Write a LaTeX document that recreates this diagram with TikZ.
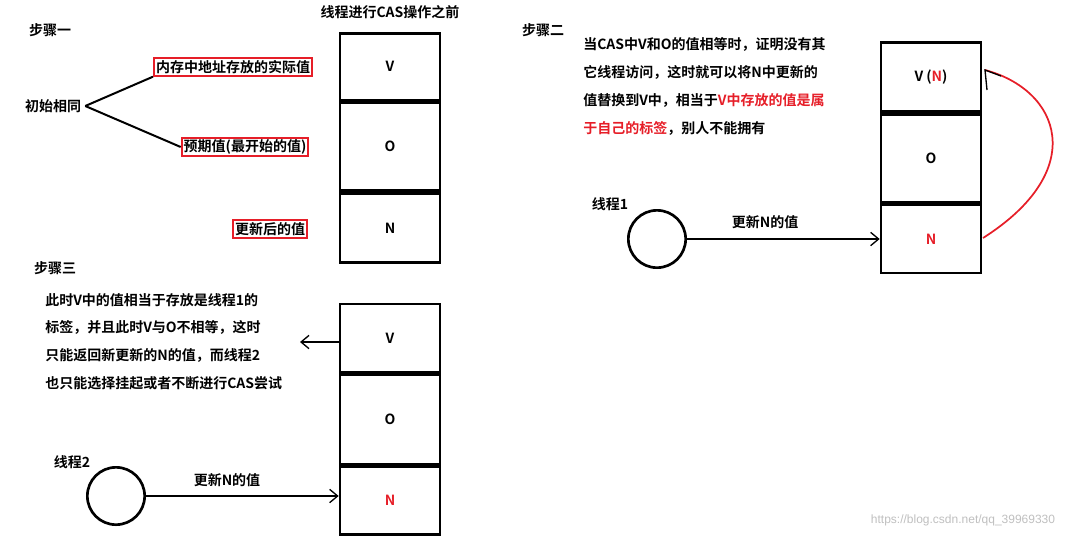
\documentclass[tikz,border=0pt]{standalone}
\usepackage{fontspec}
\setmainfont{Liberation Sans}
\newfontfamily\cjk{Noto Sans CJK SC}[BoldFont={* Bold}]
\usetikzlibrary{arrows.meta}
\definecolor{myred}{RGB}{230,30,40}
\begin{document}
\begin{tikzpicture}[x=0.75pt,y=-0.75pt,
  txt/.style={font=\cjk\bfseries\fontsize{10.5}{12}\selectfont, inner sep=0pt},
  ln/.style={font=\cjk\bfseries\fontsize{10.5}{12}\selectfont, inner sep=0pt, anchor=west},
  cell/.style={draw, line width=2pt, minimum width=75pt, font=\cjk\bfseries\fontsize{10.5}{12}\selectfont, inner sep=0pt},
  rbox/.style={draw=myred, line width=1.5pt, font=\cjk\bfseries\fontsize{10.5}{12}\selectfont, inner sep=1.5pt},
  arr/.style={line width=1pt, -{Straight Barb[length=6pt,width=10pt]}},
  thr/.style={draw, line width=2pt, circle, minimum size=43pt, inner sep=0pt}]
\useasboundingbox (0,0) rectangle (1092,537);
% step 1
\node[txt] (s1) at (50,30) {步骤一};
\node[txt] (t1) at (390,12) {线程进行CAS操作之前};
\node[cell, minimum height=50pt] (v1) at (390,66.5) {V};
\node[cell, minimum height=66pt, anchor=north] (o1) at (v1.south) {O};
\node[cell, minimum height=52pt, anchor=north] (n1) at (o1.south) {N};
\node[txt] (same) at (53,106) {初始相同};
\node[rbox] (r1) at (233,67) {内存中地址存放的实际值};
\node[rbox] (r2) at (245,147) {预期值(最开始的值)};
\node[rbox] (r3) at (270,229) {更新后的值};
\draw[line width=1.5pt] (same.east)++(4,0) coordinate (sp) -- (r1.south west);
\draw[line width=1.5pt] (sp) -- (r2.west);
% step 3
\node[txt] (s3) at (55,268) {步骤三};
\node[ln] (a1) at (45,300) {此时V中的值相当于存放是线程1的};
\node[ln] (a2) at (45,327) {标签，并且此时V与O不相等，这时};
\node[ln] (a3) at (45,355) {只能返回新更新的N的值，而线程2};
\node[ln] (a4) at (45,383) {也只能选择挂起或者不断进行CAS尝试};
\node[cell, minimum height=51pt] (v3) at (390,338) {V};
\node[cell, minimum height=67pt, anchor=north] (o3) at (v3.south) {O};
\node[cell, minimum height=51pt, anchor=north, text=myred] (n3) at (o3.south) {N};
\coordinate (back) at (300,342);
\draw[arr] (v3.west |- back) -- (back);
\node[txt] (th2) at (72,462) {线程2};
\node[thr] (c2) at (116,496) {};
\draw[arr] (c2.east) -- (n3.west |- c2);
\node[txt] (u2) at (227,480) {更新N的值};
% step 2
\node[txt] (s2) at (543,30) {步骤二};
\node[ln] (b1) at (583,44) {当CAS中V和O的值相等时，证明没有其};
\node[ln] (b2) at (583,72) {它线程访问，这时就可以将N中更新的};
\node[ln] (b3) at (583,100) {值替换到V中，相当于\textcolor{myred}{V中存放的值是属}};
\node[ln] (b4) at (583,128) {\textcolor{myred}{于自己的标签}，别人不能拥有};
\node[cell, minimum height=52pt] (v2) at (931,77) {V (\textcolor{myred}{N})};
\node[cell, minimum height=66pt, anchor=north] (o2) at (v2.south) {O};
\node[cell, minimum height=51pt, anchor=north, text=myred] (n2) at (o2.south) {N};
\node[txt] (th1) at (610,204) {线程1};
\node[thr] (c1) at (657,239) {};
\draw[arr] (c1.east) -- (n2.west |- c1);
\node[txt] (u1) at (765,222) {更新N的值};
\coordinate (cs) at (983,238);
\coordinate (ce) at (985,70);
\draw[myred, line width=1.3pt] (cs) .. controls (1090,170) and (1060,90) .. (ce);
\draw[line width=1pt] (ce) ++(2,20) -- (ce) -- ++(16,6);
\node[font=\fontsize{9}{10}\selectfont, text=black!25, inner sep=0pt] (wm) at (963,520) {https://blog.csdn.net/qq\_39969330};
\end{tikzpicture}
\end{document}
